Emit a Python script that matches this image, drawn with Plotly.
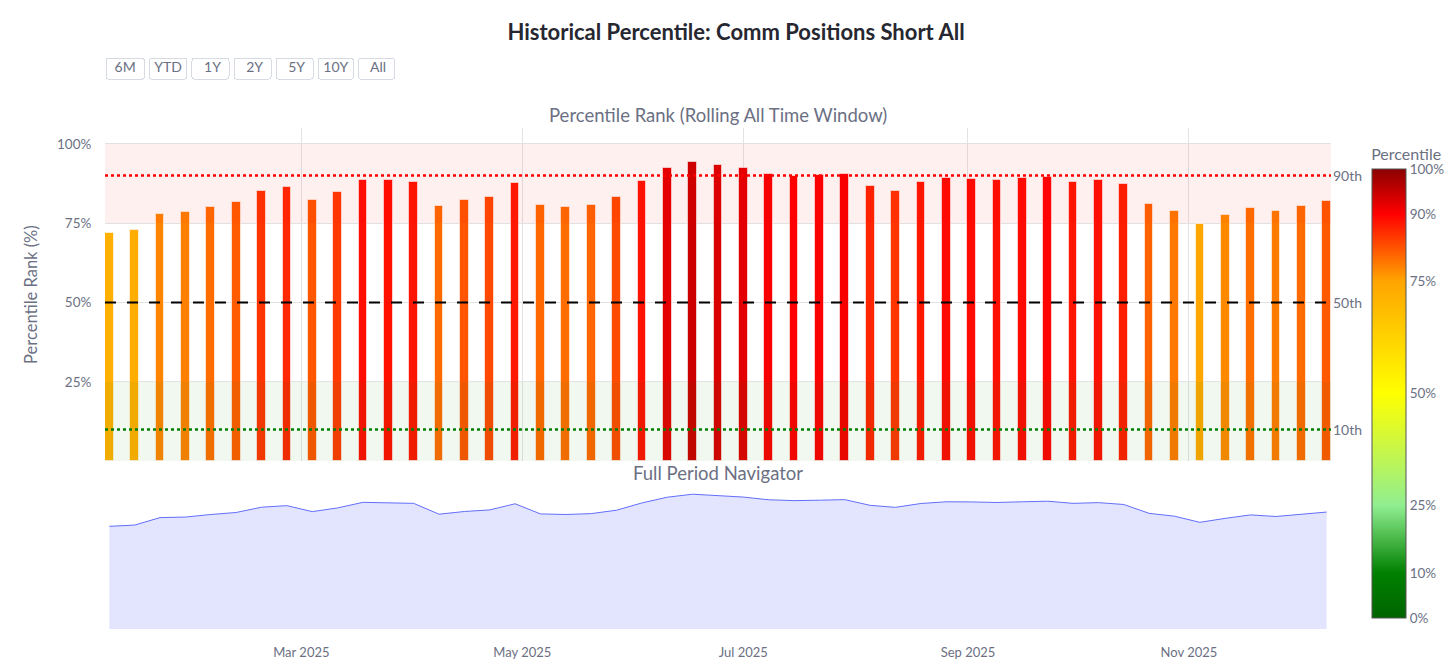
import pandas as pd
import plotly.graph_objects as go
from plotly.subplots import make_subplots

# ---------------- data ----------------
dates = [
    "2025-01-07", "2025-01-14", "2025-01-21", "2025-01-28", "2025-02-04", "2025-02-11",
    "2025-02-18", "2025-02-25", "2025-03-04", "2025-03-11", "2025-03-18", "2025-03-25",
    "2025-04-01", "2025-04-08", "2025-04-15", "2025-04-22", "2025-04-29", "2025-05-06",
    "2025-05-13", "2025-05-20", "2025-05-27", "2025-06-03", "2025-06-10", "2025-06-17",
    "2025-06-24", "2025-07-01", "2025-07-08", "2025-07-15", "2025-07-22", "2025-07-29",
    "2025-08-05", "2025-08-12", "2025-08-19", "2025-08-26", "2025-09-02", "2025-09-09",
    "2025-09-16", "2025-09-23", "2025-09-30", "2025-10-07", "2025-10-14", "2025-10-21",
    "2025-10-28", "2025-11-04", "2025-11-11", "2025-11-18", "2025-11-25", "2025-12-02",
    "2025-12-09",
]
percentile = [
    71.9, 72.8, 78.0, 78.4, 80.2, 81.6, 85.3, 86.4, 82.2, 84.8, 88.7, 88.6,
    88.0, 80.4, 82.3, 83.4, 87.7, 80.6, 80.2, 80.8, 83.2, 88.3, 92.3, 94.4,
    93.2, 92.4, 90.5, 89.9, 90.2, 90.6, 86.6, 85.2, 87.9, 89.1, 89.0, 88.6,
    89.1, 89.5, 88.0, 88.5, 87.2, 81.0, 79.0, 74.7, 77.5, 79.9, 78.8, 80.3,
    81.9,
]
ref_levels = [90, 50, 10]
ref_labels = ["90th", "50th", "10th"]
colorbar_ticks = [0, 10, 25, 50, 75, 90, 100]
colorbar_ticktext = ["0%", "10%", "25%", "50%", "75%", "90%", "100%"]
y_ticks = [25, 50, 75, 100]
y_ticktext = ["25%", "50%", "75%", "100%"]
button_labels = ["\u00a06M\u00a0", "YTD", "\u00a0\u00a01Y\u00a0", "\u00a0\u00a02Y\u00a0",
                 "\u00a0\u00a05Y\u00a0", "10Y", "\u00a0\u00a0All\u00a0"]

# ---------------- styling ----------------
FONT = "Lato, 'Source Sans Pro', sans-serif"
TICK_COLOR = "#6b7083"
GRID = "#e3e3e6"
BAR_WIDTH_MS = 2.4 * 86400000
colorscale = [
    [0.0, "#006400"], [0.10, "#008000"], [0.25, "#90EE90"], [0.50, "#FFFF00"],
    [0.75, "#FFA500"], [0.90, "#FF0000"], [1.0, "#8B0000"],
]
line_styles = [
    dict(color="red", width=2.5, dash="dot"),
    dict(color="black", width=2, dash="11px,11px"),
    dict(color="green", width=2.5, dash="dot"),
]

date_index = pd.to_datetime(dates)
half = pd.Timedelta(milliseconds=BAR_WIDTH_MS / 2)
x_range = [date_index.min() - half, date_index.max() + half]

fig = make_subplots(
    rows=2, cols=1, shared_xaxes=True, row_heights=[0.7, 0.3], vertical_spacing=0.05,
    subplot_titles=("Percentile Rank (Rolling All Time Window)", "Full Period Navigator"),
)

fig.add_trace(
    go.Bar(
        x=dates, y=percentile, width=BAR_WIDTH_MS,
        marker=dict(
            color=percentile, colorscale=colorscale, cmin=0, cmax=100,
            line=dict(color="rgba(255,255,255,0.6)", width=1),
            colorbar=dict(
                title=dict(text="Percentile", side="top", font=dict(size=16, color=TICK_COLOR)),
                tickvals=colorbar_ticks, ticktext=colorbar_ticktext,
                tickfont=dict(size=13.5, color=TICK_COLOR),
                thickness=34, len=0.984, lenmode="fraction", y=0.494, yanchor="middle",
                x=1.025, xanchor="left", outlinecolor="#555", outlinewidth=1, ticks="",
            ),
        ),
        showlegend=False, name="Percentile",
    ),
    row=1, col=1,
)

fig.add_trace(
    go.Scatter(
        x=dates, y=percentile, mode="lines", line=dict(color="#636efa", width=1),
        fill="tozeroy", fillcolor="rgba(99,110,250,0.18)", showlegend=False, name="Navigator",
    ),
    row=2, col=1,
)

# shaded zones
fig.add_hrect(y0=75, y1=100, fillcolor="rgba(255,0,0,0.06)", line_width=0, row=1, col=1)
fig.add_hrect(y0=0, y1=25, fillcolor="rgba(0,128,0,0.06)", line_width=0, row=1, col=1)

# reference lines
for lvl, lab, st in zip(ref_levels, ref_labels, line_styles):
    fig.add_hline(y=lvl, line=st, row=1, col=1)
    fig.add_annotation(
        x=1, xref="paper", y=lvl, yref="y", text=lab, showarrow=False,
        xanchor="left", yanchor="middle", font=dict(size=14, color=TICK_COLOR),
    )

for ann in fig.layout.annotations:
    if ann.text in ("Percentile Rank (Rolling All Time Window)", "Full Period Navigator"):
        ann.font = dict(size=18.5, color=TICK_COLOR, family=FONT)

fig.update_layout(
    width=1456, height=669,
    margin=dict(l=97, r=133, t=120, b=48, autoexpand=False),
    paper_bgcolor="white", plot_bgcolor="white",
    font=dict(family=FONT, color=TICK_COLOR),
    title=dict(
        text="<b>Historical Percentile: Comm Positions Short All</b>",
        x=0.5, xref="container", xanchor="center", y=0.964, yanchor="middle",
        font=dict(size=22, color="#262730"),
    ),
    bargap=0,
)

steps = [
    dict(count=6, step="month", stepmode="backward"),
    dict(count=1, step="year", stepmode="todate"),
    dict(count=1, step="year", stepmode="backward"),
    dict(count=2, step="year", stepmode="backward"),
    dict(count=5, step="year", stepmode="backward"),
    dict(count=10, step="year", stepmode="backward"),
    dict(step="all"),
]
buttons = [dict(label=lab, **st) for lab, st in zip(button_labels, steps)]

fig.update_xaxes(range=x_range)
fig.update_xaxes(
    type="date", dtick="M2", tick0="2025-01-01", tickformat="%b %Y",
    showgrid=True, gridcolor=GRID, zeroline=False, showline=False,
    tickfont=dict(size=13, color=TICK_COLOR), row=1, col=1,
    rangeselector=dict(
        buttons=buttons,
        x=0, xanchor="left", y=1.1, yanchor="bottom",
        bgcolor="white", activecolor="white", bordercolor="#d6dae3", borderwidth=1,
        font=dict(size=14, color=TICK_COLOR),
    ),
)
fig.update_xaxes(
    showgrid=False, zeroline=False, showline=False,
    ticks="outside", ticklen=11, tickcolor="rgba(0,0,0,0)",
    tickfont=dict(size=13, color=TICK_COLOR), row=2, col=1,
)
fig.update_yaxes(
    range=[0, 105], tickvals=y_ticks, ticktext=y_ticktext,
    showgrid=True, gridcolor=GRID, zeroline=False, showline=False,
    ticks="outside", ticklen=10, tickcolor="rgba(0,0,0,0)",
    tickfont=dict(size=13.5, color=TICK_COLOR),
    title=dict(text="Percentile Rank (%)", font=dict(size=16.5, color=TICK_COLOR)),
    row=1, col=1,
)
fig.update_yaxes(
    range=[0, 100], showgrid=False, zeroline=False, showticklabels=False, row=2, col=1,
)

fig.write_html("out.html")
